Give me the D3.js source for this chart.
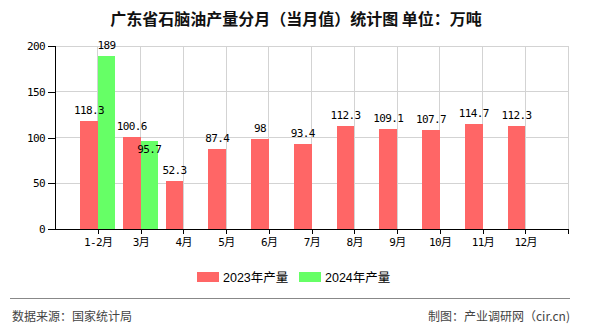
<!DOCTYPE html>
<html><head><meta charset="utf-8">
<script src="https://cdn.jsdelivr.net/npm/d3@7"></script>
<style>
body{margin:0;background:#fff;}
text{font-family:"DejaVu Sans Mono","Noto Sans CJK SC",monospace;}
</style></head>
<body><svg id="c" width="590" height="330"></svg>
<script>
const categories = ["1-2月","3月","4月","5月","6月","7月","8月","9月","10月","11月","12月"];
const values2023 = [118.3,100.6,52.3,87.4,98,93.4,112.3,109.1,107.7,114.7,112.3];
const values2024 = [189,95.7,null,null,null,null,null,null,null,null,null];
const seriesNames = ["2023年产量","2024年产量"];
const yTicks = [0,50,100,150,200];
const titleText = "广东省石脑油产量分月（当月值）统计图 单位：万吨";
const sourceText = "数据来源：国家统计局";
const creditText = "制图：产业调研网（cir.cn)";

const colors = ["#ff6666","#66ff66"];
const svg = d3.select("#c");
const L=55,R=568,T=46,B=229;
const x = d3.scaleLinear().domain([-1,categories.length]).range([L,R]);
const y = d3.scaleLinear().domain([0,200]).range([B,T]);
const bw = (x(1)-x(0))*0.41;

// title
svg.append("text").attr("x",296).attr("y",25).attr("text-anchor","middle")
  .style("font-family","'Noto Sans CJK SC',sans-serif").style("font-size","16px").style("font-weight","bold")
  .attr("fill","#111").text(titleText);

// grid
const g = svg.append("g");
g.selectAll(".hg").data(yTicks.filter(d=>d>0)).join("line")
  .attr("x1",L).attr("x2",R).attr("y1",d=>y(d)).attr("y2",d=>y(d))
  .attr("stroke","#d3d3d3").attr("stroke-width",1).attr("shape-rendering","crispEdges");
const xt = d3.range(0,categories.length+1);
g.selectAll(".vg").data(xt).join("line")
  .attr("x1",d=>x(d)).attr("x2",d=>x(d)).attr("y1",T).attr("y2",B)
  .attr("stroke","#d3d3d3").attr("stroke-width",1).attr("shape-rendering","crispEdges");

// bars
const b = svg.append("g");
b.selectAll(".b1").data(values2023.map((v,i)=>({v,i})).filter(d=>d.v!=null)).join("rect")
  .attr("x",d=>x(d.i)-bw).attr("width",bw).attr("y",d=>y(d.v)).attr("height",d=>B-y(d.v))
  .attr("fill",colors[0]).attr("shape-rendering","crispEdges");
b.selectAll(".b2").data(values2024.map((v,i)=>({v,i})).filter(d=>d.v!=null)).join("rect")
  .attr("x",d=>x(d.i)).attr("width",bw).attr("y",d=>y(d.v)).attr("height",d=>B-y(d.v))
  .attr("fill",colors[1]).attr("shape-rendering","crispEdges");

// axes
const yAxis = d3.axisLeft(y).tickValues(yTicks).tickSize(7).tickPadding(3);
const ya = svg.append("g").attr("transform",`translate(${L},0)`).call(yAxis);
const xAxis = d3.axisBottom(x).tickValues(xt).tickSize(5).tickPadding(4)
  .tickFormat(d=>categories[d]!==undefined?categories[d]:"");
const xa = svg.append("g").attr("transform",`translate(0,${B})`).call(xAxis);
[ya,xa].forEach(a=>{
  a.select(".domain").attr("stroke","#000").attr("shape-rendering","crispEdges");
  a.selectAll(".tick line").attr("stroke","#000").attr("shape-rendering","crispEdges");
  a.selectAll("text").attr("fill","#000").style("font-size","11px").style("letter-spacing","-0.6px")
    .style("font-family","'DejaVu Sans Mono','Noto Sans CJK SC',monospace");
});
xa.selectAll(".domain").attr("d",`M${L},0H${R}`);

// labels
const lab = svg.append("g").style("font-size","11px").style("letter-spacing","-0.6px").attr("fill","#000");
const l1 = values2023.map((v,i)=>({v,i,cx:x(i)-bw/2,yy:y(v)-7}));
lab.selectAll(".l1").data(l1.filter(d=>d.v!=null)).join("text")
  .attr("x",d=>d.cx).attr("y",d=>d.yy).attr("text-anchor","middle").text(d=>d.v);
const l2 = values2024.map((v,i)=>{
  if(v==null) return null;
  let yy=y(v)-7;
  const o=l1[i];
  if(o && o.v!=null && Math.abs(o.yy-yy)<11) yy=y(v)+12;
  return {v,i,cx:x(i)+bw/2,yy};
}).filter(d=>d);
lab.selectAll(".l2").data(l2).join("text")
  .attr("x",d=>d.cx).attr("y",d=>d.yy).attr("text-anchor","middle").text(d=>d.v);

// legend
const lg = svg.append("g");
const lx=[197,299];
seriesNames.forEach((n,i)=>{
  lg.append("rect").attr("x",lx[i]).attr("y",272).attr("width",22).attr("height",10).attr("fill",colors[i]);
  lg.append("text").attr("x",lx[i]+26).attr("y",282).style("font-family","'Liberation Sans','Noto Sans CJK SC',sans-serif")
    .style("font-size","12.5px").attr("fill","#000").text(n);
});

// footer
svg.append("line").attr("x1",10).attr("x2",570).attr("y1",298).attr("y2",298)
  .attr("stroke","#888").attr("stroke-width",1).attr("shape-rendering","crispEdges");
svg.append("text").attr("x",12).attr("y",321).style("font-family","'Noto Sans CJK SC',sans-serif")
  .style("font-size","12px").attr("fill","#444").text(sourceText);
svg.append("text").attr("x",570).attr("y",321).attr("text-anchor","end").style("font-family","'Noto Sans CJK SC',sans-serif")
  .style("font-size","12px").attr("fill","#444").text(creditText);
</script></body></html>
